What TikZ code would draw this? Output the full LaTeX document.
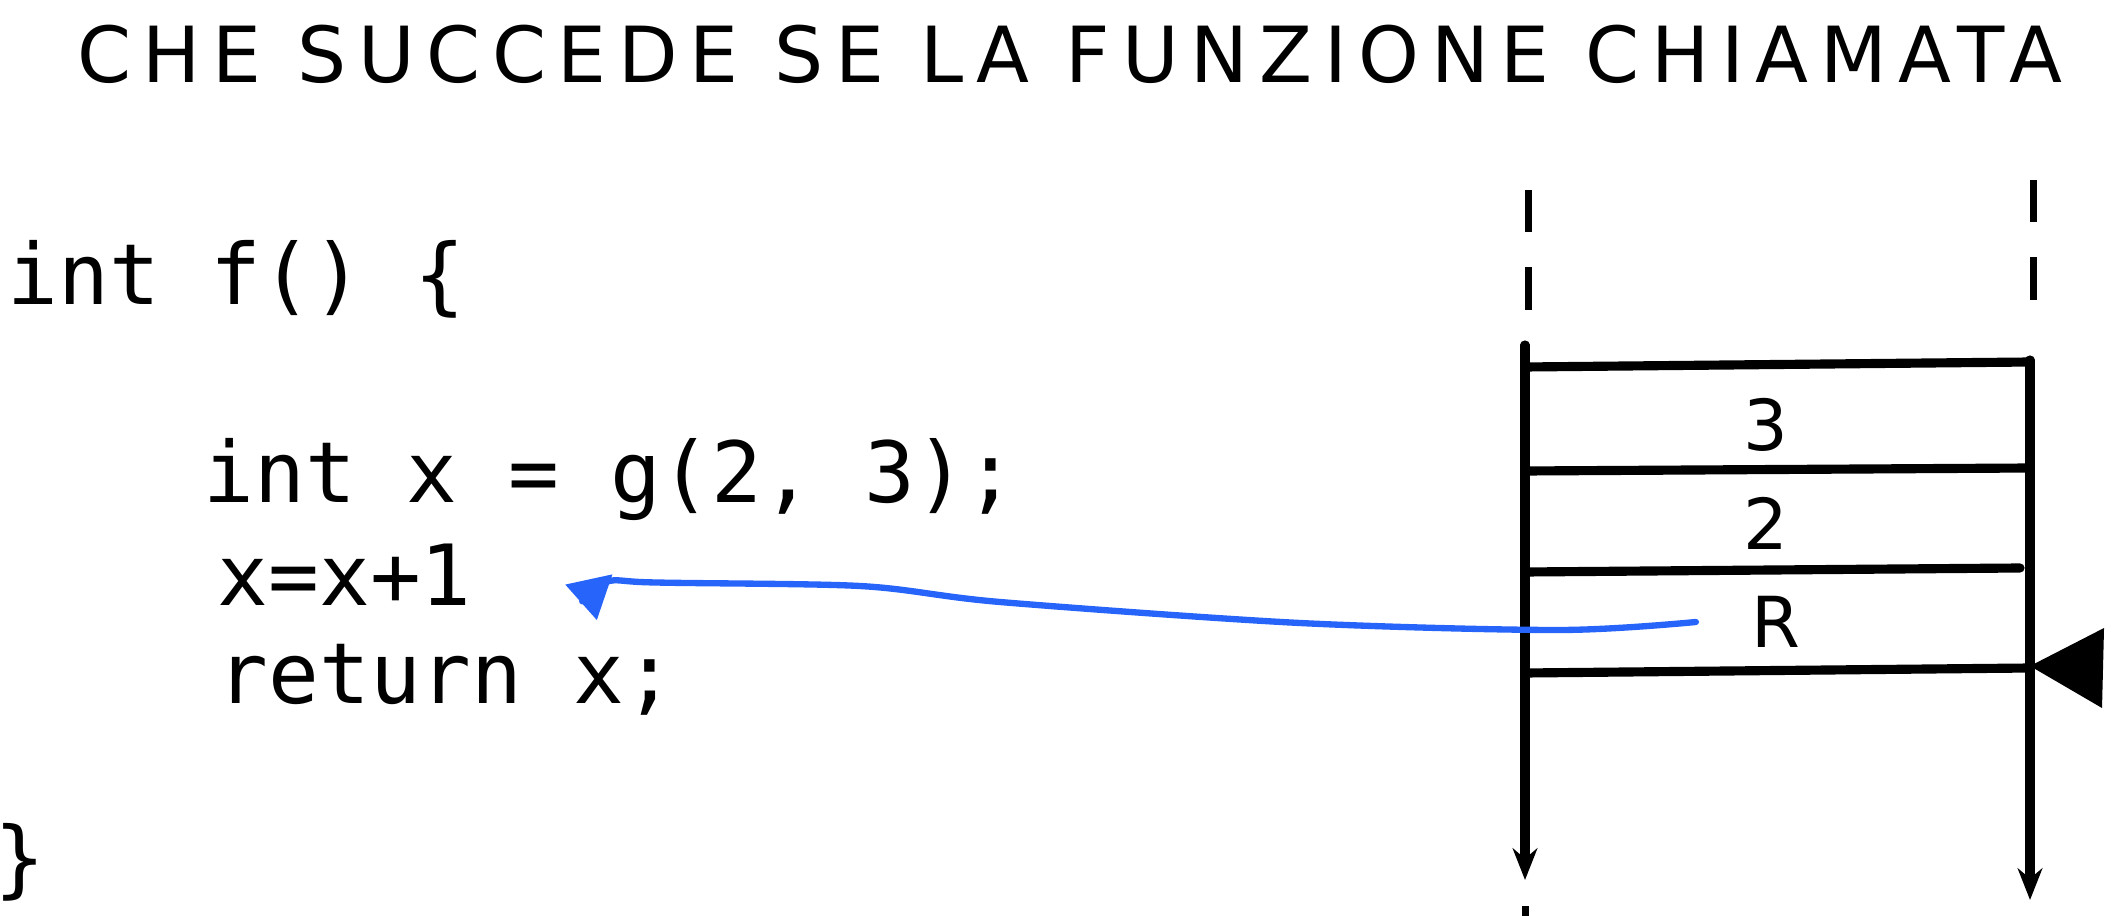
\documentclass[tikz,border=0pt]{standalone}
\usepackage{fontspec}
\setmainfont{DejaVu Sans}
\setmonofont{DejaVu Sans Mono}
\newfontfamily\titlefont[LetterSpace=15]{DejaVu Sans}
\usetikzlibrary{positioning,arrows.meta}
\definecolor{penblue}{RGB}{38,100,250}

\begin{document}
\begin{tikzpicture}[x=0.01cm,y=-0.01cm,
    code/.style={anchor=base west,inner sep=0pt,font=\ttfamily\fontsize{24}{28}\selectfont},
    slot/.style={inner sep=0pt,font=\fontsize{20}{24}\selectfont},
    wall/.style={line width=2.6pt,line cap=round},
    more/.style={line width=2pt,dash pattern=on 12pt off 10pt}]
  \useasboundingbox (0,0) rectangle (2122,916);
  \node[inner sep=0pt,font=\titlefont\fontsize{22}{26}\selectfont] (title) at (1070,54)
    {CHE SUCCEDE SE LA FUNZIONE CHIAMATA};

  % codice della funzione chiamante
  \node[code] (head) at (7,305) {int f() \{};
  \node[code] (call) at (203,503) {int x = g(2, 3);};
  \node[code] (incr) at (217,605) {x=x+1};
  \node[code] (ret) at (217,703) {return x;};
  \node[code,anchor=center] (close) at (20,862) {\}};

  % lo stack
  \draw[more] (1528,190) -- (1528,325);
  \draw[more] (2033,180) -- (2033,320);
  \draw[wall,-{Stealth[length=9pt,width=7pt]}] (1525,345) -- (1525,880);
  \draw[wall,-{Stealth[length=9pt,width=7pt]}] (2030,360) -- (2030,900);
  \draw[more] (1525,906) -- (1525,916);
  \draw[wall] (1525,367) -- (2030,362);
  \draw[wall] (1525,471) -- (2030,468);
  \draw[wall] (1525,572) -- (2020,568);
  \draw[wall] (1525,673) -- (2030,668);
  \node[slot] (three) at (1766,425) {3};
  \node[slot] (two) at (1766,523) {2};
  \node[slot] (raddr) at (1776,622) {R};
  \fill (2030,666) -- (2104,628) -- (2102,708) -- cycle;

  % ritorno al chiamante
  \coordinate[left=0.55cm of raddr.west] (from);
  \coordinate[right=1.4cm of incr.east] (to);
  \draw[penblue,line width=1.8pt,line cap=round,-{Triangle[length=12pt,width=13pt]}]
    plot[smooth,tension=0.5] coordinates {(from) (1560,630) (1300,623) (1000,602) (860,586) (640,582) (to)};
\end{tikzpicture}
\end{document}
